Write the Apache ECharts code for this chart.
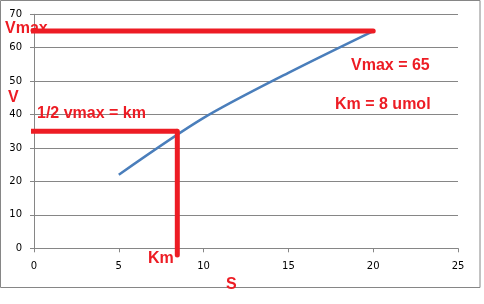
<!DOCTYPE html>
<html>
<head>
<meta charset="utf-8">
<script src="https://cdn.jsdelivr.net/npm/echarts@6/dist/echarts.min.js"></script>
<style>html,body{margin:0;padding:0;background:#fff}#c{width:484px;height:304px}</style>
</head>
<body>
<div id="c"></div>
<script>
// Data
var sValues = [5, 10, 15, 20];
var vValues = [22, 39, 52.5, 65];
var vmaxLine = [[-0.18, 65], [20, 65]];
var halfVmaxLine = [[-0.18, 35], [8.45, 35]];
var kmLine = [[8.45, 35], [8.45, -2]];
var xTicks = { min: 0, max: 25, interval: 5 };
var yTicks = { min: 0, max: 70, interval: 10 };

var red = '#ed1c24';
var grey = '#868686';
var font = 'Liberation Sans';

var chart = echarts.init(document.getElementById('c'), null, { renderer: 'canvas' });
chart.setOption({
  animation: false,
  grid: { left: 34, right: 26, top: 14.3, bottom: 55.7, containLabel: false },
  xAxis: {
    type: 'value', min: xTicks.min, max: xTicks.max, interval: xTicks.interval,
    axisLine: { show: true, lineStyle: { color: grey, width: 1 } },
    axisTick: { show: true, length: 4, lineStyle: { color: grey } },
    axisLabel: { margin: 13, color: '#000', fontFamily: 'DejaVu Sans', fontSize: 10 },
    splitLine: { show: false }
  },
  yAxis: {
    type: 'value', min: yTicks.min, max: yTicks.max, interval: yTicks.interval,
    axisLine: { show: true, lineStyle: { color: grey, width: 1 } },
    axisTick: { show: true, length: 4, lineStyle: { color: grey } },
    axisLabel: { margin: 12, color: '#000', fontFamily: 'DejaVu Sans', fontSize: 10 },
    splitLine: { show: true, lineStyle: { color: grey, width: 1 } }
  },
  graphic: [
    { type: 'rect', z: 0, shape: { x: 0.5, y: 0.5, width: 479.5, height: 287 }, style: { fill: null, stroke: grey, lineWidth: 1 } },
    { type: 'text', z: 1, x: 5, y: 29, style: { text: 'Vmax', fill: red, font: 'bold 16px ' + font, textVerticalAlign: 'middle' } },
    { type: 'text', z: 1, x: 8, y: 98, style: { text: 'V', fill: red, font: 'bold 16px ' + font, textVerticalAlign: 'middle' } },
    { type: 'text', z: 1, x: 37, y: 114, style: { text: '1/2 vmax = km', fill: red, font: 'bold 16px ' + font, textVerticalAlign: 'middle' } },
    { type: 'text', z: 1, x: 351, y: 66, style: { text: 'Vmax = 65', fill: red, font: 'bold 16px ' + font, textVerticalAlign: 'middle' } },
    { type: 'text', z: 1, x: 335, y: 105, style: { text: 'Km = 8 umol', fill: red, font: 'bold 16px ' + font, textVerticalAlign: 'middle' } },
    { type: 'text', z: 1, x: 148, y: 259, style: { text: 'Km', fill: red, font: 'bold 16px ' + font, textVerticalAlign: 'middle' } },
    { type: 'text', z: 1, x: 226, y: 285, style: { text: 'S', fill: red, font: 'bold 16px ' + font, textVerticalAlign: 'middle' } }
  ],
  series: [
    {
      type: 'line', z: 3, data: sValues.map(function (s, i) { return [s, vValues[i]]; }),
      smooth: 0.3, showSymbol: false, lineStyle: { color: '#4a7ebb', width: 2.5 }
    },
    { type: 'line', z: 4, data: vmaxLine, clip: false, showSymbol: false, lineStyle: { color: red, width: 5, cap: 'round' } },
    { type: 'line', z: 4, data: halfVmaxLine, clip: false, showSymbol: false, lineStyle: { color: red, width: 5, cap: 'butt', join: 'miter' } },
    { type: 'line', z: 4, data: kmLine, clip: false, showSymbol: false, lineStyle: { color: red, width: 5, cap: 'round' } }
  ]
});
</script>
</body>
</html>
